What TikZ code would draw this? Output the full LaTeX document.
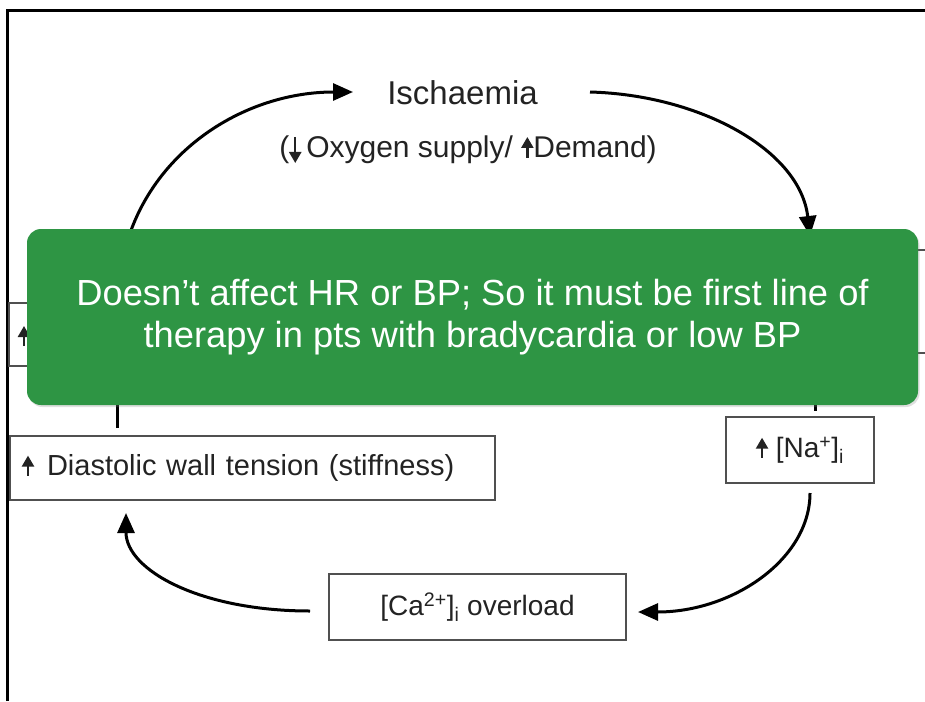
\documentclass[tikz,border=0pt]{standalone}
\usepackage{fontspec}
\setmainfont{Liberation Sans}
\usetikzlibrary{arrows.meta,shadows}
\definecolor{ink}{RGB}{35,35,35}
\definecolor{boxline}{RGB}{80,80,80}
\definecolor{grn}{RGB}{46,149,68}
\newcommand{\uparr}[1][20]{\tikz[baseline=0pt,x=1pt,y=1pt]\draw[ink,line width=2.4pt,-{Triangle[length=11pt,width=12pt]}] (0,0)--(0,#1);}
\newcommand{\downarr}{\tikz[baseline=0pt,x=1pt,y=1pt]\draw[ink,line width=2.4pt,-{Triangle[length=11pt,width=12pt]}] (0,21)--(0,-5);}
\begin{document}
\begin{tikzpicture}[x=1pt,y=-1pt,
  txt/.style={text=ink,inner sep=0pt},
  cbox/.style={draw=boxline,line width=1.8pt,text=ink,font=\fontsize{28}{34}\selectfont,inner sep=0pt},
  arr/.style={draw=black,line width=3pt,-{Triangle[length=20pt,width=17pt]}},
  ln/.style={draw=black,line width=3pt},
  note/.style={fill=grn,rounded corners=14pt,text=white,align=center,
    font=\fontsize{36.3}{42}\selectfont,
    drop shadow={opacity=0.25,shadow xshift=1.5pt,shadow yshift=-2pt}}]
\useasboundingbox (0,0) rectangle (925,701);
\fill[white] (0,0) rectangle (925,701);
\draw[line width=3pt] (7,701) -- (7,11) -- (925,11);

% top texts
\node[txt,font=\fontsize{33}{40}\selectfont] (isch) at (462.5,93) {Ischaemia};
\node[txt,font=\fontsize{30}{36}\selectfont] (sub) at (468,150) {(\downarr\,Oxygen supply/ \uparr[21]Demand)};

% boxes
\node[cbox,minimum width=300pt,minimum height=63pt,anchor=west] (hl) at (8,334.5) {};
\node[txt,font=\fontsize{28}{34}\selectfont] (hla) at (24,336) {\uparr};
\draw[boxline,line width=1.8pt] (925,250) -| (700,353) -- (925,353);
\coordinate (hrin) at (810,236);
\coordinate (hrout) at (815,353);

\node[cbox,font=\fontsize{29}{35}\selectfont,minimum width=485pt,minimum height=64pt,text width=461pt,align=left,inner xsep=12pt] (dia) at (252.5,468) {\uparr\hspace{13pt}Diastolic wall tension (stiffness)};
\node[cbox,minimum width=148pt,minimum height=66pt] (na) at (800,450) {\uparr\ [Na\textsuperscript{+}]\textsubscript{i}};
\node[cbox,minimum width=297pt,minimum height=66pt] (ca) at (477.5,607) {[Ca\textsuperscript{2+}]\textsubscript{i} overload};

% connectors
\coordinate (a1) at (118,303);
\coordinate (a1e) at (353,92);
\coordinate (a2s) at (590,92);
\draw[arr] (a1) .. controls (119,172) and (230,92) .. (a1e);
\draw[arr] (a2s) .. controls (700,95) and (800,150) .. (hrin);
\draw[ln] (hrout) -- (815,411);
\draw[ln] (117,428) -- (117,370);
\coordinate (n1) at (810,493);
\coordinate (n2) at (638,612);
\draw[arr] (n1) .. controls (810,559) and (733,612) .. (n2);
\coordinate (c1) at (310,611);
\coordinate (c2) at (126,513);
\draw[arr] (c1) .. controls (200,611) and (126,570) .. (c2);

% green note
\node[note,minimum width=891pt,minimum height=176pt] (gnote) at (472.5,317) {Doesn’t affect HR or BP; So it must be first line of\\therapy in pts with bradycardia or low BP};
\end{tikzpicture}
\end{document}
